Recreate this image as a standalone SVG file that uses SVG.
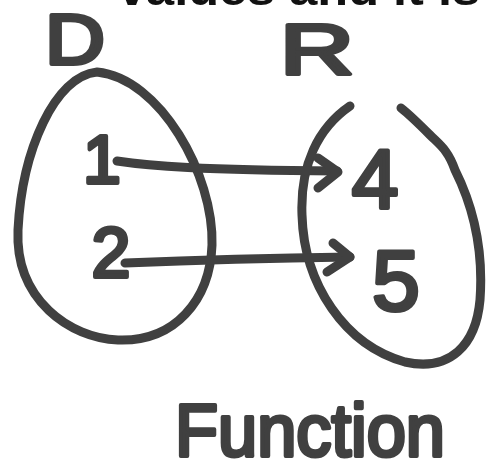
<svg xmlns="http://www.w3.org/2000/svg" width="488" height="472" viewBox="0 0 488 472">
<style>
.hand{fill:none;stroke:#404040;stroke-width:9;stroke-linecap:round;stroke-linejoin:round}
.lbl{font-family:"Liberation Sans","DejaVu Sans",sans-serif;fill:#404040;stroke:#404040;stroke-width:4;stroke-linejoin:round;text-anchor:middle}
.top{font-family:"Liberation Sans","DejaVu Sans",sans-serif;fill:#111;font-weight:bold}
</style>
<rect width="488" height="472" fill="#fff"/>
<text class="top" x="118" y="5" font-size="46" textLength="362" lengthAdjust="spacingAndGlyphs">values and it is</text>
<g id="domain">
<path class="hand" d="M97,72 C55,76 22,150 18,230 C15,300 70,338 118,340 C175,342 210,300 212,245 C214,175 160,78 97,72 Z"/>
<text class="lbl" x="75" y="64" font-size="70" textLength="60" lengthAdjust="spacingAndGlyphs">D</text>
<text class="lbl" x="102" y="183" font-size="68">1</text>
<text class="lbl" x="111" y="277" font-size="70">2</text>
</g>
<g id="range">
<path class="hand" d="M350,106 C318,128 300,165 302,215 C304,285 345,345 405,362 C450,372 476,345 480,300 C484,245 470,200 455,170 C448,150 440,145 430,135 C420,125 410,115 401,108"/>
<text class="lbl" x="317" y="74" font-size="70" textLength="74" lengthAdjust="spacingAndGlyphs">R</text>
<text class="lbl" x="375" y="208" font-size="84">4</text>
<text class="lbl" x="396" y="310" font-size="86">5</text>
</g>
<g id="connectors">
<path class="hand" d="M117,161 C150,166 200,170 337,171"/>
<path class="hand" d="M318,158 L338,172 L318,188"/>
<path class="hand" d="M125,263 C200,260 280,258 350,257"/>
<path class="hand" d="M333,243 L350,257 L327,272"/>
</g>
<text class="lbl" x="310" y="456" font-size="74" textLength="270" lengthAdjust="spacingAndGlyphs">Function</text>
</svg>
